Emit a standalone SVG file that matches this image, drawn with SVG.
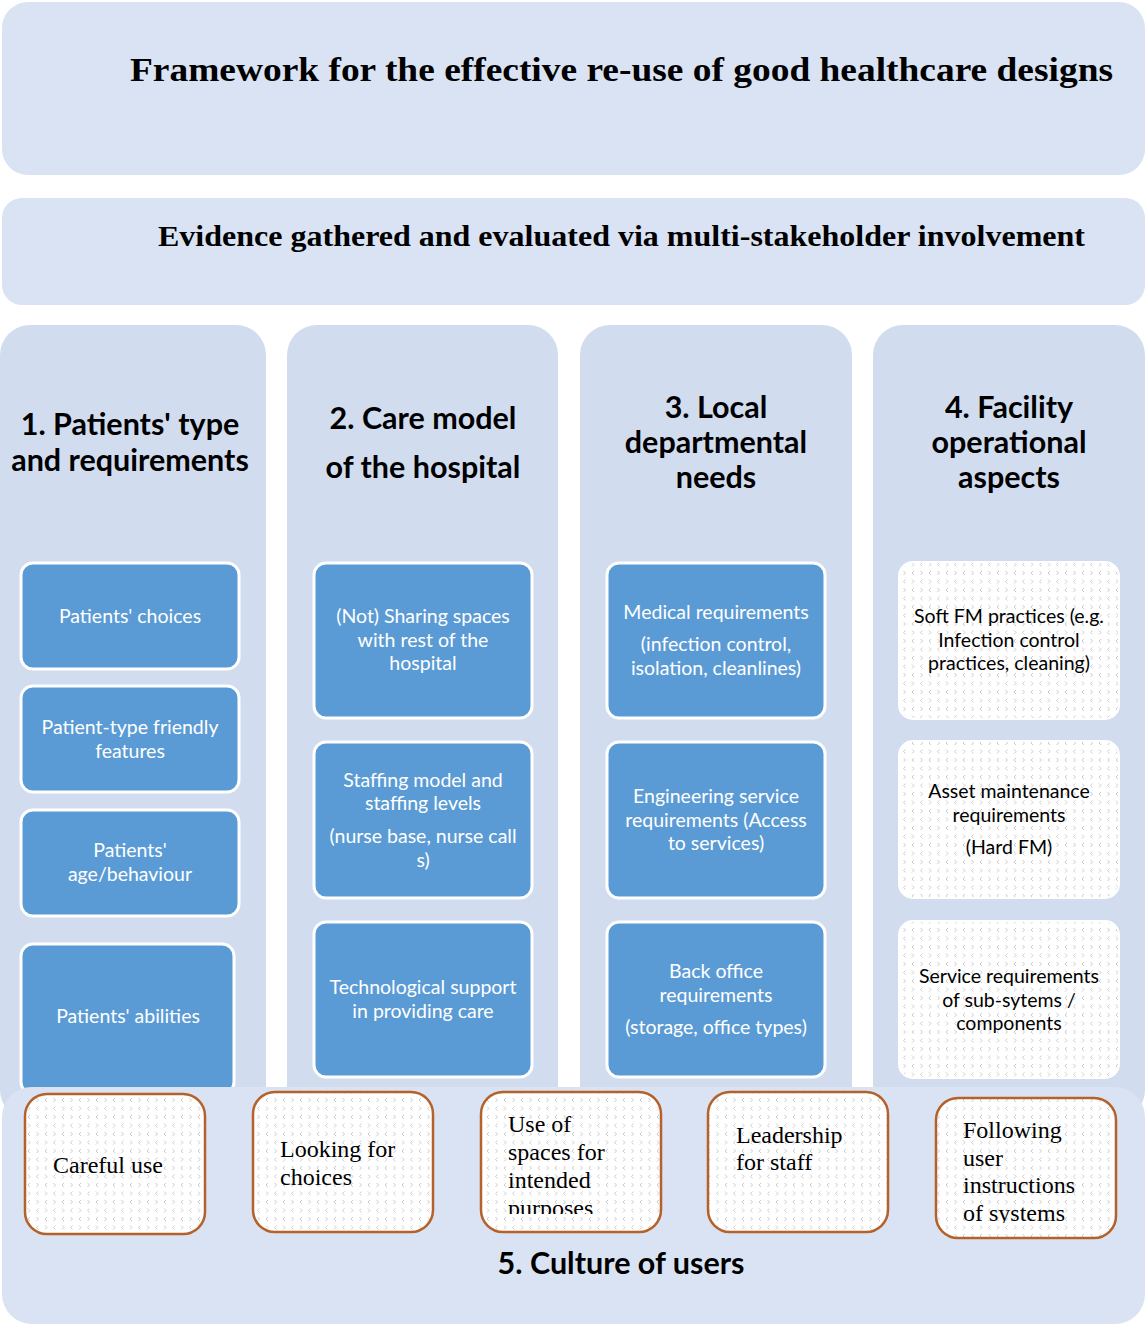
<svg xmlns="http://www.w3.org/2000/svg" width="1145" height="1324" viewBox="0 0 1145 1324">
<style>
.panel{fill:#DAE3F3}
.col{fill:#D1DDEF}
.blue{fill:#5B9BD5;stroke:#fff;stroke-width:3}
.dot{fill:url(#conf);stroke:#fff;stroke-width:2}
.orange{fill:url(#conf);stroke:#B5612A;stroke-width:2.5}
.title{font-family:"Liberation Serif",serif;font-weight:bold;fill:#000}
.head{font-family:Lato,"Liberation Sans",sans-serif;font-weight:bold;fill:#000;font-size:30.5px;text-anchor:middle}
.wt{font-family:Lato,"Liberation Sans",sans-serif;fill:#fff;font-size:19.5px;text-anchor:middle}
.bt{font-family:Lato,"Liberation Sans",sans-serif;fill:#000;font-size:19.5px;text-anchor:middle}
.st{font-family:"Liberation Serif",serif;fill:#000;font-size:24px}
</style>
<defs>
<pattern id="conf" width="17" height="17" patternUnits="userSpaceOnUse">
<rect width="17" height="17" fill="#fff"/>
<g fill="none" stroke="#c6c6c6" stroke-width="0.9">
<path d="M4.5 1.5 L2.5 3.5 L4.5 5.5"/>
<path d="M11 1.5 L13 3.5 L11 5.5"/>
<path d="M2.5 10 L4.5 12 L2.5 14"/>
<path d="M13 10 L11 12 L13 14"/>
</g>
</pattern>
<clipPath id="c3"><rect x="481" y="1092" width="180" height="122"/></clipPath>
<clipPath id="c5"><rect x="936" y="1098" width="180" height="125"/></clipPath>
</defs>

<g id="title">
<rect class="panel" x="2" y="2" width="1143" height="173" rx="26"/>
<text class="title" x="130" y="81" font-size="34" textLength="983" lengthAdjust="spacingAndGlyphs">Framework for the effective re-use of good healthcare designs</text>
</g>
<g id="evidence">
<rect class="panel" x="2" y="198" width="1143" height="107" rx="20"/>
<text class="title" x="158" y="246" font-size="29" textLength="927" lengthAdjust="spacingAndGlyphs">Evidence gathered and evaluated via multi-stakeholder involvement</text>
</g>

<g id="col1">
<rect class="col" x="0" y="325" width="266" height="795" rx="30"/>
<text class="head" x="130" y="435">1. Patients' type</text>
<text class="head" x="130" y="471">and requirements</text>
</g>
<g id="col2">
<rect class="col" x="287" y="325" width="271" height="795" rx="30"/>
<text class="head" x="423" y="429">2. Care model</text>
<text class="head" x="423" y="478">of the hospital</text>
</g>
<g id="col3">
<rect class="col" x="580" y="325" width="272" height="795" rx="30"/>
<text class="head" x="716" y="418">3. Local</text>
<text class="head" x="716" y="453">departmental</text>
<text class="head" x="716" y="488">needs</text>
</g>
<g id="col4">
<rect class="col" x="873" y="325" width="272" height="795" rx="30"/>
<text class="head" x="1009" y="418">4. Facility</text>
<text class="head" x="1009" y="453">operational</text>
<text class="head" x="1009" y="488">aspects</text>
</g>

<g id="n1a"><rect class="blue" x="21" y="563" width="218" height="106" rx="12"/>
<text class="wt" x="130" y="623">Patients' choices</text></g>
<g id="n1b"><rect class="blue" x="21" y="686" width="218" height="106" rx="12"/>
<text class="wt" x="130" y="734">Patient-type friendly</text><text class="wt" x="130" y="758">features</text></g>
<g id="n1c"><rect class="blue" x="21" y="810" width="218" height="106" rx="12"/>
<text class="wt" x="130" y="857">Patients'</text><text class="wt" x="130" y="881">age/behaviour</text></g>
<g id="n1d"><rect class="blue" x="21" y="944" width="213" height="150" rx="12"/>
<text class="wt" x="128" y="1023">Patients' abilities</text></g>

<g id="n2a"><rect class="blue" x="314" y="563" width="218" height="155" rx="12"/>
<text class="wt" x="423" y="623">(Not) Sharing spaces</text><text class="wt" x="423" y="647">with rest of the</text><text class="wt" x="423" y="670">hospital</text></g>
<g id="n2b"><rect class="blue" x="314" y="742" width="218" height="156" rx="12"/>
<text class="wt" x="423" y="787">Staffing model and</text><text class="wt" x="423" y="810">staffing levels</text><text class="wt" x="423" y="843">(nurse base, nurse call</text><text class="wt" x="423" y="867">s)</text></g>
<g id="n2c"><rect class="blue" x="314" y="922" width="218" height="155" rx="12"/>
<text class="wt" x="423" y="994">Technological support</text><text class="wt" x="423" y="1018">in providing care</text></g>

<g id="n3a"><rect class="blue" x="607" y="563" width="218" height="155" rx="12"/>
<text class="wt" x="716" y="619">Medical requirements</text><text class="wt" x="716" y="651">(infection control,</text><text class="wt" x="716" y="675">isolation, cleanlines)</text></g>
<g id="n3b"><rect class="blue" x="607" y="742" width="218" height="156" rx="12"/>
<text class="wt" x="716" y="803">Engineering service</text><text class="wt" x="716" y="827">requirements (Access</text><text class="wt" x="716" y="850">to services)</text></g>
<g id="n3c"><rect class="blue" x="607" y="922" width="218" height="155" rx="12"/>
<text class="wt" x="716" y="978">Back office</text><text class="wt" x="716" y="1002">requirements</text><text class="wt" x="716" y="1034">(storage, office types)</text></g>

<g id="n4a"><rect class="dot" x="899" y="562" width="220" height="157" rx="14"/>
<text class="bt" x="1009" y="623">Soft FM practices (e.g.</text><text class="bt" x="1009" y="647">Infection control</text><text class="bt" x="1009" y="670">practices, cleaning)</text></g>
<g id="n4b"><rect class="dot" x="899" y="741" width="220" height="157" rx="14"/>
<text class="bt" x="1009" y="798">Asset maintenance</text><text class="bt" x="1009" y="822">requirements</text><text class="bt" x="1009" y="854">(Hard FM)</text></g>
<g id="n4c"><rect class="dot" x="899" y="921" width="220" height="157" rx="14"/>
<text class="bt" x="1009" y="983">Service requirements</text><text class="bt" x="1009" y="1007">of sub-sytems /</text><text class="bt" x="1009" y="1030">components</text></g>

<g id="culture">
<rect class="panel" x="2" y="1087" width="1143" height="237" rx="30"/>
<text class="head" x="621" y="1274">5. Culture of users</text>
</g>

<g id="b1"><rect class="orange" x="25" y="1094" width="180" height="140" rx="22"/>
<text class="st" x="53" y="1173">Careful use</text></g>
<g id="b2"><rect class="orange" x="253" y="1092" width="180" height="140" rx="22"/>
<text class="st" x="280" y="1157">Looking for</text><text class="st" x="280" y="1185">choices</text></g>
<g id="b3"><rect class="orange" x="481" y="1092" width="180" height="140" rx="22"/>
<g clip-path="url(#c3)"><text class="st" x="508" y="1132">Use of</text><text class="st" x="508" y="1160">spaces for</text><text class="st" x="508" y="1188">intended</text><text class="st" x="508" y="1216">purposes</text></g></g>
<g id="b4"><rect class="orange" x="708" y="1092" width="180" height="140" rx="22"/>
<text class="st" x="736" y="1143">Leadership</text><text class="st" x="736" y="1170">for staff</text></g>
<g id="b5"><rect class="orange" x="936" y="1098" width="180" height="140" rx="22"/>
<g clip-path="url(#c5)"><text class="st" x="963" y="1138">Following</text><text class="st" x="963" y="1166">user</text><text class="st" x="963" y="1193">instructions</text><text class="st" x="963" y="1221">of systems</text></g></g>

<g id="connectors"/>
</svg>
